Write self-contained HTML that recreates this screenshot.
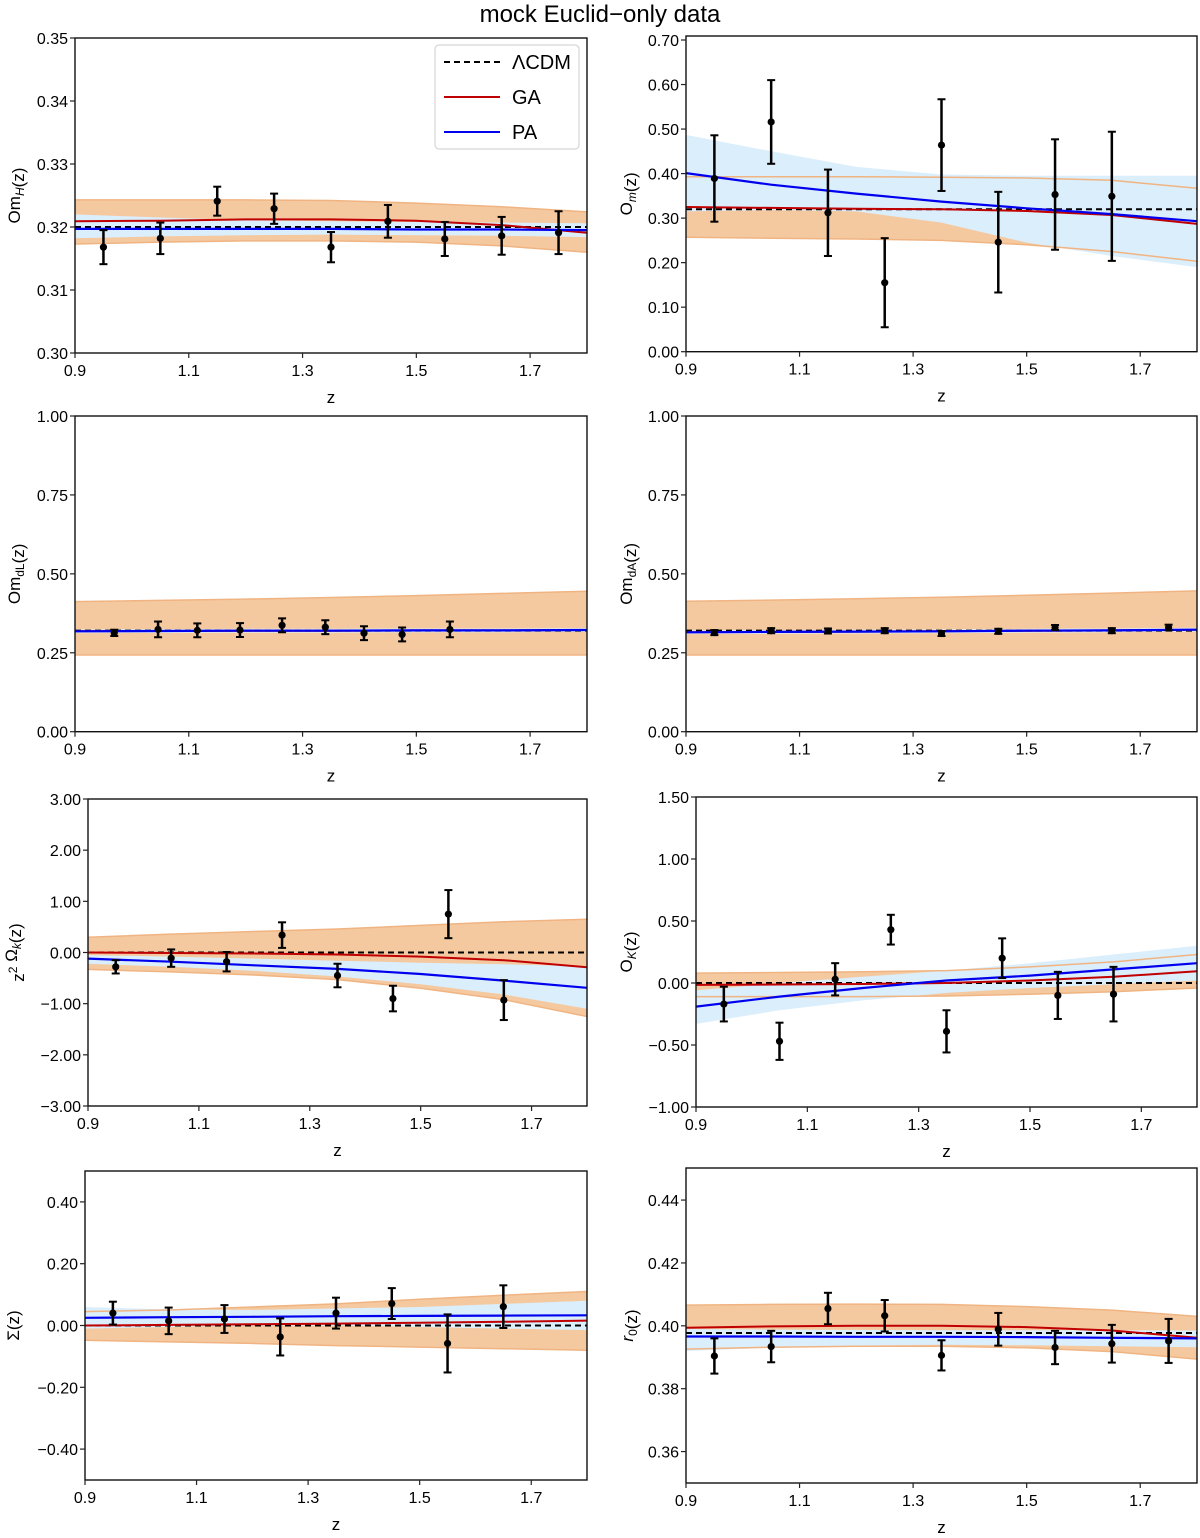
<!DOCTYPE html>
<html><head><meta charset="utf-8"><style>
body{margin:0;background:#fff;}
svg{display:block;font-family:"Liberation Sans",sans-serif;}
</style></head><body>
<svg id="fig" width="1200" height="1538" viewBox="0 0 1200 1538">
<text x="600" y="22" text-anchor="middle" font-size="24">mock Euclid−only data</text>
</svg>
<script>
const gridZ = [0.9, 1.05, 1.2, 1.35, 1.5, 1.65, 1.8];

// Panel 1: Om_H
const p1Z = [0.95,1.05,1.15,1.25,1.35,1.45,1.55,1.65,1.75];
const p1Y = [0.3168,0.3182,0.3241,0.3229,0.3168,0.3209,0.3181,0.3186,0.3191];
const p1Err = [0.0027,0.0025,0.0023,0.0024,0.0024,0.0026,0.0027,0.0030,0.0034];
const p1GaHi = [.3243,.3243,.3243,.3242,.3238,.3232,.3224];
const p1GaLo = [.3173,.3176,.3178,.3178,.3176,.3170,.3160];
const p1PaHi = [.3220,.3215,.3211,.3209,.3208,.3207,.3206];
const p1PaLo = [.3182,.3185,.3187,.3188,.3187,.3186,.3184];
const p1Ga = [.3209,.3210,.3212,.3212,.3210,.3203,.3191];
const p1Pa = [.3197,.3197,.3197,.3197,.3196,.3196,.3195];
const p1Lcdm = 0.32;

// Panel 2: O_m
const p2Z = [0.95,1.05,1.15,1.25,1.35,1.45,1.55,1.65];
const p2Y = [0.389,0.516,0.312,0.155,0.464,0.246,0.353,0.349];
const p2Err = [0.097,0.094,0.097,0.100,0.103,0.113,0.124,0.145];
const p2GaHi = [.393,.393,.393,.392,.390,.385,.367];
const p2GaLo = [.257,.255,.253,.250,.240,.225,.203];
const p2PaHi = [.487,.450,.415,.398,.395,.395,.395];
const p2PaLo = [.315,.318,.315,.290,.245,.215,.190];
const p2Ga = [.325,.323,.321,.320,.316,.307,.287];
const p2Pa = [.401,.375,.355,.337,.322,.309,.293];
const p2Lcdm = 0.32;

// Panel 3: Om_dL
const p3Z = [0.969,1.046,1.115,1.19,1.264,1.34,1.408,1.475,1.559];
const p3Y = [0.313,0.324,0.321,0.322,0.337,0.331,0.312,0.308,0.324];
const p3Err = [0.010,0.025,0.022,0.022,0.022,0.022,0.022,0.022,0.025];
const p3GaHi = [.412,.416,.420,.425,.431,.438,.445];
const p3GaLo = [.243,.243,.243,.243,.243,.243,.243];
const p3PaHi = [.324,.325,.326,.326,.327,.327,.328];
const p3PaLo = [.312,.313,.314,.314,.315,.315,.316];
const p3Ga = [.318,.319,.320,.320,.321,.321,.322];
const p3Pa = [.318,.319,.320,.320,.321,.321,.322];
const p3Lcdm = 0.32;

// Panel 4: Om_dA
const p4Z = [0.95,1.05,1.15,1.25,1.35,1.45,1.55,1.65,1.75];
const p4Y = [0.314,0.320,0.319,0.320,0.311,0.318,0.330,0.320,0.330];
const p4Err = [0.008,0.008,0.008,0.008,0.008,0.008,0.008,0.008,0.009];
const p4GaHi = [.413,.417,.421,.426,.432,.439,.446];
const p4GaLo = [.243,.243,.243,.243,.243,.243,.243];
const p4PaHi = [.321,.322,.323,.324,.326,.327,.329];
const p4PaLo = [.309,.310,.311,.312,.314,.315,.317];
const p4Ga = [.315,.316,.317,.318,.320,.321,.323];
const p4Pa = [.315,.316,.317,.318,.320,.321,.323];
const p4Lcdm = 0.32;

// Panel 5: z^2 Omega_k
const p5Z = [0.95,1.05,1.15,1.25,1.35,1.45,1.55,1.65];
const p5Y = [-0.28,-0.11,-0.18,0.34,-0.45,-0.90,0.75,-0.93];
const p5Err = [0.13,0.17,0.19,0.25,0.23,0.25,0.47,0.39];
const p5GaHi = [.30,.36,.41,.46,.53,.60,.65];
const p5GaLo = [-.33,-.38,-.44,-.53,-.70,-.92,-1.25];
const p5PaHi = [-.05,-.08,-.12,-.16,-.20,-.23,-.27];
const p5PaLo = [-.22,-.28,-.36,-.47,-.62,-.82,-1.10];
const p5Ga = [0,-.01,-.02,-.04,-.08,-.15,-.29];
const p5Pa = [-.12,-.18,-.25,-.32,-.42,-.55,-.69];
const p5Lcdm = 0;

// Panel 6: O_K
const p6Z = [0.95,1.05,1.15,1.25,1.35,1.45,1.55,1.65];
const p6Y = [-0.17,-0.47,0.03,0.43,-0.39,0.20,-0.10,-0.09];
const p6Err = [0.14,0.15,0.13,0.12,0.17,0.16,0.19,0.22];
const p6GaHi = [.08,.085,.09,.10,.13,.17,.23];
const p6GaLo = [-.11,-.11,-.11,-.105,-.09,-.07,-.04];
const p6PaHi = [-.06,.0,.05,.10,.16,.23,.30];
const p6PaLo = [-.33,-.22,-.14,-.08,-.04,-.01,.02];
const p6Ga = [-.015,-.012,-.008,.0,.02,.05,.095];
const p6Pa = [-.19,-.11,-.04,.02,.06,.11,.16];
const p6Lcdm = 0;

// Panel 7: Sigma
const p7Z = [0.95,1.05,1.15,1.25,1.35,1.45,1.55,1.65];
const p7Y = [0.040,0.015,0.021,-0.037,0.040,0.071,-0.058,0.061];
const p7Err = [0.037,0.043,0.045,0.06,0.05,0.05,0.094,0.069];
const p7GaHi = [.045,.05,.06,.07,.085,.098,.11];
const p7GaLo = [-.048,-.053,-.058,-.065,-.07,-.075,-.08];
const p7PaHi = [.06,.052,.05,.055,.06,.07,.08];
const p7PaLo = [-.01,-.005,.0,.0,-.005,-.01,-.015];
const p7Ga = [0,.002,.004,.006,.009,.012,.016];
const p7Pa = [.025,.027,.028,.03,.031,.032,.033];
const p7Lcdm = 0;

// Panel 8: r_0
const p8Z = [0.95,1.05,1.15,1.25,1.35,1.45,1.55,1.65,1.75];
const p8Y = [0.3904,0.3934,0.4055,0.4032,0.3906,0.3989,0.3931,0.3943,0.3952];
const p8Err = [0.0056,0.005,0.005,0.005,0.0048,0.0052,0.0053,0.006,0.007];
const p8GaHi = [.4066,.4068,.4069,.4068,.4061,.4050,.4030];
const p8GaLo = [.3926,.3932,.3935,.3935,.3930,.3918,.3894];
const p8PaHi = [.3990,.3988,.3987,.3986,.3986,.3986,.3985];
const p8PaLo = [.3920,.3930,.3937,.3940,.3938,.3935,.3932];
const p8Ga = [.3994,.3998,.4000,.4000,.3996,.3985,.3962];
const p8Pa = [.3966,.3966,.3965,.3965,.3964,.3962,.3960];
const p8Lcdm = 0.3977;

const xTicks = [0.9,1.1,1.3,1.5,1.7];
const p1Ticks = [0.30,0.31,0.32,0.33,0.34,0.35];
const p2Ticks = [0,0.1,0.2,0.3,0.4,0.5,0.6,0.7];
const p3Ticks = [0,0.25,0.5,0.75,1.0];
const p5Ticks = [-3,-2,-1,0,1,2,3];
const p6Ticks = [-1,-0.5,0,0.5,1,1.5];
const p7Ticks = [-0.4,-0.2,0,0.2,0.4];
const p8Ticks = [0.36,0.38,0.40,0.42,0.44];

const NS = "http://www.w3.org/2000/svg";
const svg = document.getElementById('fig');
function mk(tag, attrs, parent){
  const e = document.createElementNS(NS, tag);
  for (const k in attrs) e.setAttribute(k, attrs[k]);
  (parent||svg).appendChild(e);
  return e;
}

const panels = [
 {id:'om-h', L:75,R:587,T:38,B:353, y0:0.30,y1:0.35, ticks:p1Ticks, dec:2, lx:15, label:[['Om',''],['H','subi'],['(z)','']], d:[p1Z,p1Y,p1Err,p1GaHi,p1GaLo,p1PaHi,p1PaLo,p1Ga,p1Pa,p1Lcdm], legend:true},
 {id:'o-m', L:686,R:1197,T:36,B:351.7, y0:0,y1:0.7090, ticks:p2Ticks, dec:2, lx:627, label:[['O',''],['m','subi'],['(z)','']], d:[p2Z,p2Y,p2Err,p2GaHi,p2GaLo,p2PaHi,p2PaLo,p2Ga,p2Pa,p2Lcdm]},
 {id:'om-dl', L:75,R:587,T:416,B:731.7, y0:0,y1:1, ticks:p3Ticks, dec:2, lx:15, label:[['Om',''],['dL','sub'],['(z)','']], d:[p3Z,p3Y,p3Err,p3GaHi,p3GaLo,p3PaHi,p3PaLo,p3Ga,p3Pa,p3Lcdm]},
 {id:'om-da', L:686,R:1197,T:416,B:731.7, y0:0,y1:1, ticks:p3Ticks, dec:2, lx:627, label:[['Om',''],['dA','sub'],['(z)','']], d:[p4Z,p4Y,p4Err,p4GaHi,p4GaLo,p4PaHi,p4PaLo,p4Ga,p4Pa,p4Lcdm]},
 {id:'omega-k', L:88,R:587,T:799,B:1106, y0:-3,y1:3, ticks:p5Ticks, dec:2, lx:19, label:[['z',''],['2','sup'],[' Ω',''],['k','subi'],['(z)','']], d:[p5Z,p5Y,p5Err,p5GaHi,p5GaLo,p5PaHi,p5PaLo,p5Ga,p5Pa,p5Lcdm]},
 {id:'o-k', L:696,R:1197,T:797,B:1107, y0:-1,y1:1.5, ticks:p6Ticks, dec:2, lx:627, label:[['O',''],['K','subi'],['(z)','']], d:[p6Z,p6Y,p6Err,p6GaHi,p6GaLo,p6PaHi,p6PaLo,p6Ga,p6Pa,p6Lcdm]},
 {id:'sigma', L:85,R:587,T:1171,B:1480, y0:-0.5,y1:0.5, ticks:p7Ticks, dec:2, lx:14, label:[['Σ(z)','']], d:[p7Z,p7Y,p7Err,p7GaHi,p7GaLo,p7PaHi,p7PaLo,p7Ga,p7Pa,p7Lcdm]},
 {id:'r0', L:686,R:1197,T:1168,B:1483, y0:0.35,y1:0.4502, ticks:p8Ticks, dec:2, lx:628, label:[['r','i'],['0','sub'],['(z)','']], d:[p8Z,p8Y,p8Err,p8GaHi,p8GaLo,p8PaHi,p8PaLo,p8Ga,p8Pa,p8Lcdm]}
];

panels.forEach(p=>{
  const g = mk('g',{});
  
  
  const sx = z => p.L + (z-0.9)/0.9*(p.R-p.L);
  const sy = v => p.B - (v-p.y0)/(p.y1-p.y0)*(p.B-p.T);
  const cid = 'clip-'+p.id;
  const cp = mk('clipPath',{id:cid}, g);
  mk('rect',{x:p.L,y:p.T,width:p.R-p.L,height:p.B-p.T}, cp);
  const plot = mk('g',{'clip-path':'url(#'+cid+')'}, g);
  const [Z,Y,E,gh,gl,ph,pl,ga,pa,lc] = p.d;
  const band = (hi,lo)=>{
    let s = gridZ.map((z,i)=>(i?'L':'M')+sx(z).toFixed(1)+','+sy(hi[i]).toFixed(1)).join('');
    for (let i=gridZ.length-1;i>=0;i--) s += 'L'+sx(gridZ[i]).toFixed(1)+','+sy(lo[i]).toFixed(1);
    return s+'Z';
  };
  const line = arr => gridZ.map((z,i)=>(i?'L':'M')+sx(z).toFixed(1)+','+sy(arr[i]).toFixed(1)).join('');
  const ob = mk('path',{d:band(gh,gl),fill:'#f5c9a0',stroke:'none'}, plot);
  
  
  const bb = mk('path',{d:band(ph,pl),fill:'#dbeefc',stroke:'none'}, plot);
  
  
  mk('path',{d:line(gh),fill:'none',stroke:'#f0b482','stroke-width':1.5}, plot);
  mk('path',{d:line(gl),fill:'none',stroke:'#f0b482','stroke-width':1.5}, plot);
  const ll = mk('line',{x1:p.L,x2:p.R,y1:sy(lc),y2:sy(lc),stroke:'#000','stroke-width':2,'stroke-dasharray':'6,4'}, plot);
  
  
  const gl2 = mk('path',{d:line(ga),fill:'none',stroke:'#c00000','stroke-width':2}, plot);
  
  
  const pl2 = mk('path',{d:line(pa),fill:'none',stroke:'#0000ee','stroke-width':2.2}, plot);
  
  
  Z.forEach((z,i)=>{
    const x = sx(z), yt = sy(Y[i]+E[i]), yb = sy(Y[i]-E[i]);
    const eg = mk('g',{stroke:'#000','stroke-width':2.5}, plot);
    
    
    mk('line',{x1:x,x2:x,y1:yt,y2:yb}, eg);
    mk('line',{x1:x-4,x2:x+4,y1:yt,y2:yt,'stroke-width':2}, eg);
    mk('line',{x1:x-4,x2:x+4,y1:yb,y2:yb,'stroke-width':2}, eg);
    mk('circle',{cx:x,cy:sy(Y[i]),r:3.6,fill:'#000',stroke:'none'}, eg);
  });
  const fr = mk('rect',{x:p.L,y:p.T,width:p.R-p.L,height:p.B-p.T,fill:'none',stroke:'#111','stroke-width':1.4}, g);
  
  
  const xa = mk('g',{}, g);
  
  
  xTicks.forEach(t=>{
    const x = sx(t);
    mk('line',{x1:x,x2:x,y1:p.B,y2:p.B+5,stroke:'#222','stroke-width':1.2}, xa);
    const tx = mk('text',{x:x,y:p.B+23,'text-anchor':'middle','font-size':16}, xa);
    tx.textContent = t.toFixed(1);
  });
  const xl = mk('text',{x:(p.L+p.R)/2,y:p.B+50,'text-anchor':'middle','font-size':17}, g);
  
  
  xl.textContent = 'z';
  const ya = mk('g',{}, g);
  
  
  p.ticks.forEach(t=>{
    const y = sy(t);
    mk('line',{x1:p.L-5,x2:p.L,y1:y,y2:y,stroke:'#222','stroke-width':1.2}, ya);
    const tx = mk('text',{x:p.L-7,y:y+6,'text-anchor':'end','font-size':16}, ya);
    tx.textContent = (t<0?'−':'') + Math.abs(t).toFixed(p.dec);
  });
  const cy = (p.T+p.B)/2;
  const yl = mk('text',{transform:'translate('+p.lx+','+cy+') rotate(-90)','text-anchor':'middle','font-size':17,y:5}, g);
  
  
  p.label.forEach(([t,s])=>{
    const ts = mk('tspan',{}, yl);
    if (s==='sub'||s==='subi'){ ts.setAttribute('font-size','12'); ts.setAttribute('dy','4'); }
    if (s==='sup'){ ts.setAttribute('font-size','12'); ts.setAttribute('dy','-7'); }
    if (s==='subi'||s==='i') ts.setAttribute('font-style','italic');
    ts.textContent = t;
    if (s==='sub'||s==='subi'||s==='sup'){
      const back = mk('tspan',{dy: s==='sup'?'7':'-4'}, yl);
      back.textContent = '';
    }
  });
  if (p.legend){
    const lg = mk('g',{}, g);
    
    
    mk('rect',{x:435,y:45,width:144,height:104,rx:4,fill:'#fff','fill-opacity':0.85,stroke:'#ccc','stroke-width':1}, lg);
    const items = [['ΛCDM','#000','6,4',62],['GA','#c00000','',97],['PA','#0000ee','',132]];
    items.forEach(([t,c,da,y])=>{
      const e = mk('g',{}, lg);
      
      
      const a = {x1:444,x2:500,y1:y,y2:y,stroke:c,'stroke-width':2};
      if (da) a['stroke-dasharray'] = da;
      mk('line',a,e);
      const tx = mk('text',{x:512,y:y+7,'font-size':20}, e);
      tx.textContent = t;
    });
  }
});
</script>
</body></html>
